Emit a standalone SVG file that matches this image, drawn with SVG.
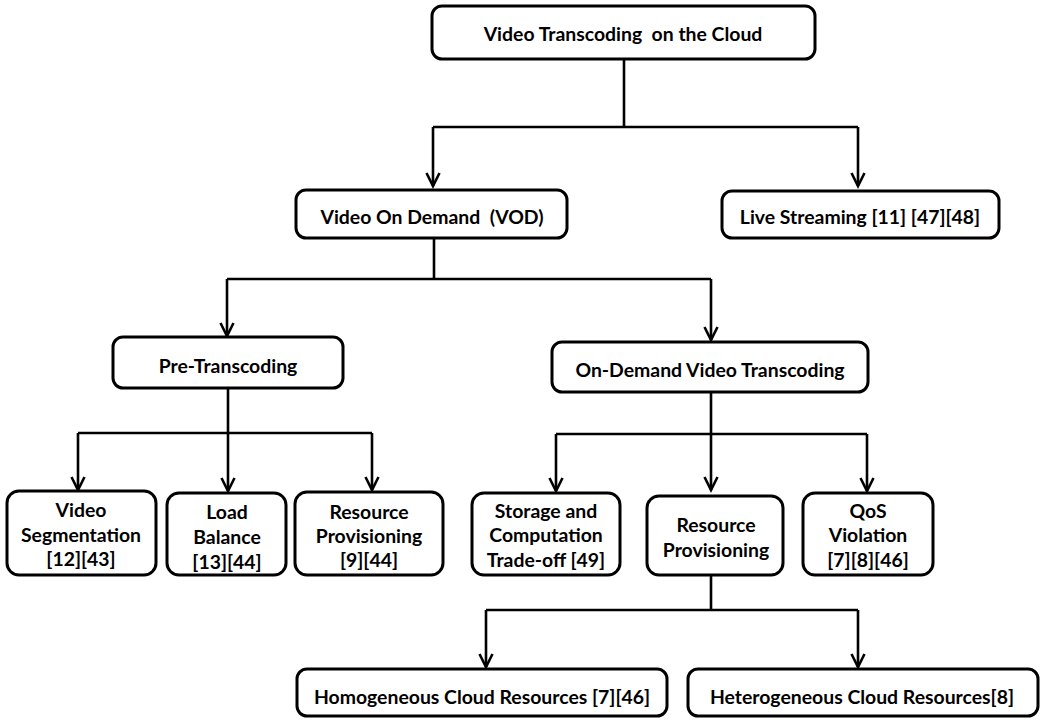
<svg xmlns="http://www.w3.org/2000/svg" width="1044" height="722" viewBox="0 0 1044 722">
<defs>
<style>
.box{fill:#fff;stroke:#000;stroke-width:3}
.t{font-family:Lato,"Open Sans","Liberation Sans",sans-serif;font-weight:bold;font-size:19.4px;fill:#000;text-anchor:middle;white-space:pre}
.c{fill:none;stroke:#000;stroke-width:2.6}
</style>
<marker id="arr" markerUnits="userSpaceOnUse" markerWidth="18" markerHeight="18" viewBox="0 0 18 18" refX="15" refY="9" orient="auto">
<path d="M2,2.5 L15,9 L2,15.5" fill="none" stroke="#000" stroke-width="2.6"/>
</marker>
</defs>
<rect width="1044" height="722" fill="#fff"/>
<g id="connectors">
<path class="c" d="M624,59 V127 M433,127 H858 M434,238 V279 M227,279 H711 M228,388 V433 M78,433 H372 M711,392 V434 M556,434 H867 M711,575 V610 M486,610 H858"/>
<line class="c" x1="433" y1="127" x2="433" y2="186" marker-end="url(#arr)"/>
<line class="c" x1="858" y1="127" x2="858" y2="186" marker-end="url(#arr)"/>
<line class="c" x1="227" y1="279" x2="227" y2="336" marker-end="url(#arr)"/>
<line class="c" x1="711" y1="279" x2="711" y2="340" marker-end="url(#arr)"/>
<line class="c" x1="78" y1="433" x2="78" y2="490" marker-end="url(#arr)"/>
<line class="c" x1="228" y1="433" x2="228" y2="491" marker-end="url(#arr)"/>
<line class="c" x1="372" y1="433" x2="372" y2="490" marker-end="url(#arr)"/>
<line class="c" x1="556" y1="434" x2="556" y2="491" marker-end="url(#arr)"/>
<line class="c" x1="711" y1="434" x2="711" y2="490" marker-end="url(#arr)"/>
<line class="c" x1="867" y1="434" x2="867" y2="491" marker-end="url(#arr)"/>
<line class="c" x1="486" y1="610" x2="486" y2="667" marker-end="url(#arr)"/>
<line class="c" x1="858" y1="610" x2="858" y2="667" marker-end="url(#arr)"/>
</g>
<g id="root"><rect class="box" x="432" y="6" width="383" height="53" rx="10"/><text class="t" x="623" y="41" xml:space="preserve">Video Transcoding  on the Cloud</text></g>
<g id="vod"><rect class="box" x="296" y="190" width="271" height="48" rx="10"/><text class="t" x="432" y="224" xml:space="preserve">Video On Demand  (VOD)</text></g>
<g id="live"><rect class="box" x="722" y="191" width="277" height="47" rx="10"/><text class="t" x="860" y="224">Live Streaming [11] [47][48]</text></g>
<g id="pre"><rect class="box" x="113" y="337" width="230" height="51" rx="10"/><text class="t" x="228" y="373">Pre-Transcoding</text></g>
<g id="ondemand"><rect class="box" x="552" y="342" width="316" height="50" rx="10"/><text class="t" x="710" y="377">On-Demand Video Transcoding</text></g>
<g id="vidseg"><rect class="box" x="7" y="491" width="149" height="84" rx="12"/><text class="t" x="81" y="517">Video</text><text class="t" x="81" y="542">Segmentation</text><text class="t" x="81" y="566">[12][43]</text></g>
<g id="load"><rect class="box" x="167" y="493" width="119" height="82" rx="12"/><text class="t" x="227" y="519">Load</text><text class="t" x="227" y="544">Balance</text><text class="t" x="227" y="569">[13][44]</text></g>
<g id="rp1"><rect class="box" x="295" y="492" width="148" height="83" rx="12"/><text class="t" x="369" y="519">Resource</text><text class="t" x="369" y="543">Provisioning</text><text class="t" x="369" y="567">[9][44]</text></g>
<g id="storage"><rect class="box" x="472" y="493" width="148" height="82" rx="12"/><text class="t" x="546" y="518">Storage and</text><text class="t" x="546" y="542">Computation</text><text class="t" x="546" y="567">Trade-off [49]</text></g>
<g id="rp2"><rect class="box" x="647" y="496" width="136" height="79" rx="12"/><text class="t" x="716" y="532">Resource</text><text class="t" x="716" y="557">Provisioning</text></g>
<g id="qos"><rect class="box" x="803" y="493" width="130" height="82" rx="12"/><text class="t" x="868" y="518">QoS</text><text class="t" x="868" y="542">Violation</text><text class="t" x="868" y="567">[7][8][46]</text></g>
<g id="homo"><rect class="box" x="297" y="669" width="370" height="47" rx="10"/><text class="t" x="482" y="704">Homogeneous Cloud Resources [7][46]</text></g>
<g id="hetero"><rect class="box" x="688" y="669" width="350" height="47" rx="10"/><text class="t" x="862" y="704">Heterogeneous Cloud Resources[8]</text></g>
</svg>
